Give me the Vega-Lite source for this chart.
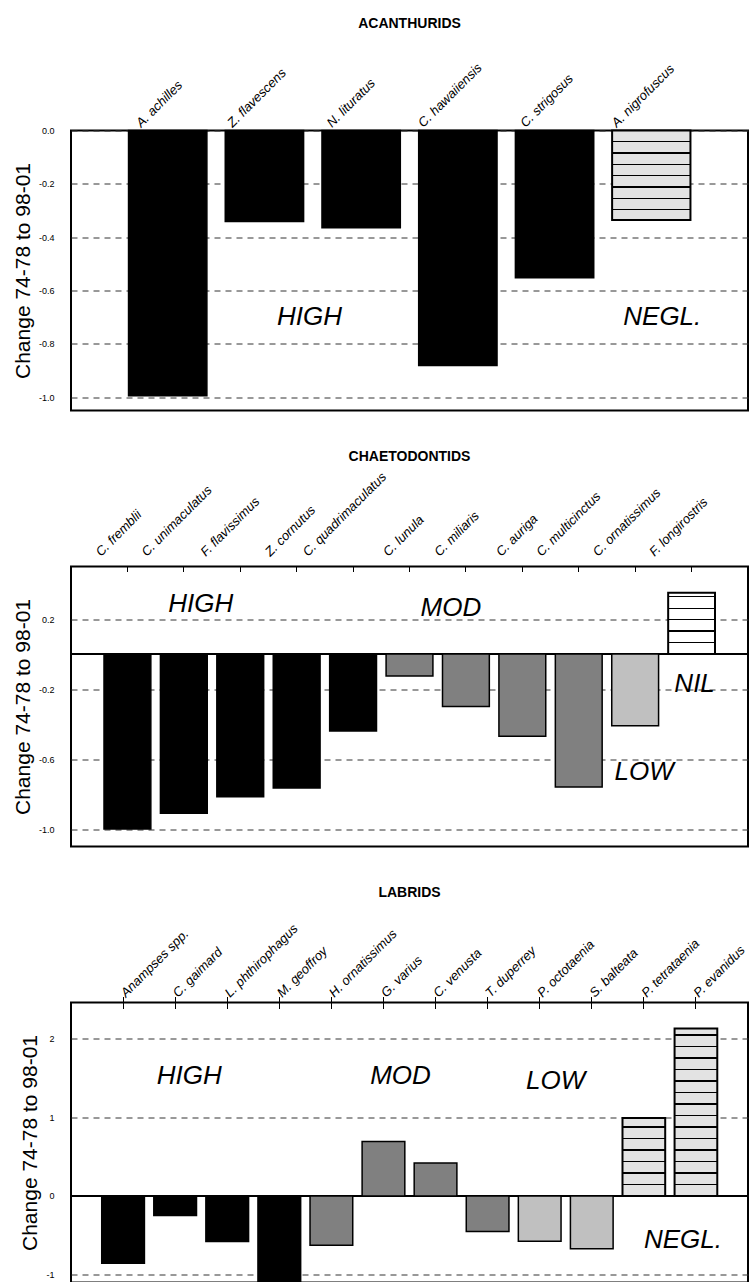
{
  "$schema": "https://vega.github.io/schema/vega-lite/v6.json",
  "background": "white",
  "padding": {"left": 11, "top": 15.5, "right": 0, "bottom": 0},
  "spacing": 156,
  "bounds": "flush",
  "config": {
    "font": "Liberation Sans",
    "view": {"stroke": "black", "strokeWidth": 2},
    "title": {"font": "Liberation Sans", "fontSize": 14, "fontWeight": "bold", "color": "black", "anchor": "middle"},
    "axis": {"labelFont": "Liberation Sans", "titleFont": "Liberation Sans", "labelColor": "black", "titleColor": "black"},
    "axisX": {"orient": "top", "title": null, "labelAngle": -45, "labelAlign": "left", "labelBaseline": "bottom", "labelFontSize": 13, "labelFontStyle": "italic", "labelOverlap": false, "domain": false, "grid": false, "tickColor": "black", "tickWidth": 1},
    "axisY": {"grid": true, "gridDash": [6, 5], "gridColor": "#333333", "gridWidth": 1, "ticks": false, "domain": false, "labelPadding": 17, "labelFontSize": 9, "titleFontSize": 21, "titleFontWeight": "normal", "titlePadding": 5, "labelOverlap": false},
    "text": {"font": "Liberation Sans", "fontSize": 26, "fontStyle": "italic", "color": "black", "align": "center", "baseline": "middle"}
  },
  "datasets": {
    "acan": [
      {"species": "A. achilles", "change": -0.995, "cls": "HIGH"},
      {"species": "Z. flavescens", "change": -0.341, "cls": "HIGH"},
      {"species": "N. lituratus", "change": -0.365, "cls": "HIGH"},
      {"species": "C. hawaiiensis", "change": -0.881, "cls": "HIGH"},
      {"species": "C. strigosus", "change": -0.552, "cls": "HIGH"},
      {"species": "A. nigrofuscus", "change": -0.336, "cls": "NEGL"}
    ],
    "chaet": [
      {"species": "C. fremblii", "change": -1.0, "cls": "HIGH"},
      {"species": "C. unimaculatus", "change": -0.91, "cls": "HIGH"},
      {"species": "F. flavissimus", "change": -0.815, "cls": "HIGH"},
      {"species": "Z. cornutus", "change": -0.765, "cls": "HIGH"},
      {"species": "C. quadrimaculatus", "change": -0.44, "cls": "HIGH"},
      {"species": "C. lunula", "change": -0.125, "cls": "MOD"},
      {"species": "C. miliaris", "change": -0.3, "cls": "MOD"},
      {"species": "C. auriga", "change": -0.47, "cls": "MOD"},
      {"species": "C. multicinctus", "change": -0.76, "cls": "MOD"},
      {"species": "C. ornatissimus", "change": -0.41, "cls": "LOW"},
      {"species": "F. longirostris", "change": 0.35, "cls": "NIL"}
    ],
    "labr": [
      {"species": "Anampses spp.", "change": -0.855, "cls": "HIGH"},
      {"species": "C. gaimard", "change": -0.247, "cls": "HIGH"},
      {"species": "L. phthirophagus", "change": -0.58, "cls": "HIGH"},
      {"species": "M. geoffroy", "change": -1.09, "cls": "HIGH"},
      {"species": "H. ornatissimus", "change": -0.625, "cls": "MOD"},
      {"species": "G. varius", "change": 0.694, "cls": "MOD"},
      {"species": "C. venusta", "change": 0.42, "cls": "MOD"},
      {"species": "T. duperrey", "change": -0.45, "cls": "MOD"},
      {"species": "P. octotaenia", "change": -0.577, "cls": "LOW"},
      {"species": "S. balteata", "change": -0.67, "cls": "LOW"},
      {"species": "P. tetrataenia", "change": 0.99, "cls": "NEGL"},
      {"species": "P. evanidus", "change": 2.13, "cls": "NEGL"}
    ]
  },
  "vconcat": [
    {
      "title": {"text": "ACANTHURIDS", "offset": 30},
      "width": 677,
      "height": 280,
      "data": {"name": "acan"},
      "layer": [
        {
          "transform": [{"filter": "datum.cls != 'NEGL'"}],
          "mark": {"type": "bar", "stroke": "black", "strokeWidth": 1.5},
          "encoding": {
            "x": {"field": "species", "type": "nominal",
              "scale": {"domain": ["A. achilles", "Z. flavescens", "N. lituratus", "C. hawaiiensis", "C. strigosus", "A. nigrofuscus"], "paddingInner": 0.19, "paddingOuter": 0.595},
              "axis": {"ticks": false, "labelPadding": 1, "labelOffset": {"expr": "5 - 2.67 * length(datum.label)"}}},
            "y": {"field": "change", "type": "quantitative", "scale": {"domain": [-1.05, 0], "nice": false},
              "axis": {"title": "Change 74-78 to 98-01", "values": [0, -0.2, -0.4, -0.6, -0.8, -1.0],
                "labelExpr": "(datum.value < 0 ? '-' : '') + format(abs(datum.value), '.1f')"}},
            "fill": {"field": "cls", "type": "nominal", "legend": null,
              "scale": {"domain": ["HIGH", "MOD", "LOW", "NEGL", "NIL"], "range": ["#000000", "#808080", "#c0c0c0", "#e3e3e3", "#ffffff"]}}
          }
        },
        {
          "transform": [{"filter": "datum.species == 'A. nigrofuscus'"}],
          "mark": {"type": "bar", "stroke": "black", "strokeWidth": 2,
            "fill": {"gradient": "linear", "x1": 0, "y1": 0, "x2": 0, "y2": 1, "stops": [
              {"offset": 0, "color": "#e3e3e3"},
              {"offset": 0.1185, "color": "#e3e3e3"}, {"offset": 0.1185, "color": "#000000"}, {"offset": 0.1335, "color": "#000000"}, {"offset": 0.1335, "color": "#e3e3e3"},
              {"offset": 0.2445, "color": "#e3e3e3"}, {"offset": 0.2445, "color": "#000000"}, {"offset": 0.2595, "color": "#000000"}, {"offset": 0.2595, "color": "#e3e3e3"},
              {"offset": 0.3705, "color": "#e3e3e3"}, {"offset": 0.3705, "color": "#000000"}, {"offset": 0.3855, "color": "#000000"}, {"offset": 0.3855, "color": "#e3e3e3"},
              {"offset": 0.4965, "color": "#e3e3e3"}, {"offset": 0.4965, "color": "#000000"}, {"offset": 0.5115, "color": "#000000"}, {"offset": 0.5115, "color": "#e3e3e3"},
              {"offset": 0.6235, "color": "#e3e3e3"}, {"offset": 0.6235, "color": "#000000"}, {"offset": 0.6385, "color": "#000000"}, {"offset": 0.6385, "color": "#e3e3e3"},
              {"offset": 0.7495, "color": "#e3e3e3"}, {"offset": 0.7495, "color": "#000000"}, {"offset": 0.7645, "color": "#000000"}, {"offset": 0.7645, "color": "#e3e3e3"},
              {"offset": 0.8755, "color": "#e3e3e3"}, {"offset": 0.8755, "color": "#000000"}, {"offset": 0.8905, "color": "#000000"}, {"offset": 0.8905, "color": "#e3e3e3"},
              {"offset": 1, "color": "#e3e3e3"}]}},
          "encoding": {
            "x": {"field": "species", "type": "nominal"},
            "y": {"field": "change", "type": "quantitative"}
          }
        },
        {
          "data": {"values": [{"species": "Z. flavescens", "change": -0.7, "label": "HIGH"}]},
          "mark": {"type": "text", "dx": 45},
          "encoding": {"x": {"field": "species", "type": "nominal"}, "y": {"field": "change", "type": "quantitative"}, "text": {"field": "label"}}
        },
        {
          "data": {"values": [{"species": "A. nigrofuscus", "change": -0.7, "label": "NEGL."}]},
          "mark": {"type": "text", "dx": 11},
          "encoding": {"x": {"field": "species", "type": "nominal"}, "y": {"field": "change", "type": "quantitative"}, "text": {"field": "label"}}
        }
      ]
    },
    {
      "title": {"text": "CHAETODONTIDS", "offset": 6},
      "width": 677,
      "height": 280,
      "data": {"name": "chaet"},
      "layer": [
        {
          "data": {"values": [{}]},
          "mark": {"type": "rule", "color": "black", "strokeWidth": 2},
          "encoding": {"y": {"datum": 0, "type": "quantitative"}}
        },
        {
          "transform": [{"filter": "datum.cls != 'NIL'"}],
          "mark": {"type": "bar", "stroke": "black", "strokeWidth": 1.5},
          "encoding": {
            "x": {"field": "species", "type": "nominal",
              "scale": {"domain": ["C. fremblii", "C. unimaculatus", "F. flavissimus", "Z. cornutus", "C. quadrimaculatus", "C. lunula", "C. miliaris", "C. auriga", "C. multicinctus", "C. ornatissimus", "F. longirostris"], "paddingInner": 0.17, "paddingOuter": 0.585},
              "axis": {"ticks": true, "tickSize": 5, "offset": -5, "labelPadding": 8, "labelOffset": {"expr": "5 - 2.67 * length(datum.label)"}}},
            "y": {"field": "change", "type": "quantitative", "scale": {"domain": [-1.1, 0.5], "nice": false},
              "axis": {"title": "Change 74-78 to 98-01", "values": [0.2, -0.2, -0.6, -1.0],
                "labelExpr": "(datum.value < 0 ? '-' : '') + format(abs(datum.value), '.1f')"}},
            "fill": {"field": "cls", "type": "nominal", "legend": null,
              "scale": {"domain": ["HIGH", "MOD", "LOW", "NEGL", "NIL"], "range": ["#000000", "#808080", "#c0c0c0", "#e3e3e3", "#ffffff"]}}
          }
        },
        {
          "transform": [{"filter": "datum.species == 'F. longirostris'"}],
          "mark": {"type": "bar", "stroke": "black", "strokeWidth": 2,
            "fill": {"gradient": "linear", "x1": 0, "y1": 0, "x2": 0, "y2": 1, "stops": [
              {"offset": 0, "color": "#ffffff"},
              {"offset": 0.054, "color": "#ffffff"}, {"offset": 0.054, "color": "#000000"}, {"offset": 0.076, "color": "#000000"}, {"offset": 0.076, "color": "#ffffff"},
              {"offset": 0.241, "color": "#ffffff"}, {"offset": 0.241, "color": "#000000"}, {"offset": 0.263, "color": "#000000"}, {"offset": 0.263, "color": "#ffffff"},
              {"offset": 0.428, "color": "#ffffff"}, {"offset": 0.428, "color": "#000000"}, {"offset": 0.45, "color": "#000000"}, {"offset": 0.45, "color": "#ffffff"},
              {"offset": 0.615, "color": "#ffffff"}, {"offset": 0.615, "color": "#000000"}, {"offset": 0.637, "color": "#000000"}, {"offset": 0.637, "color": "#ffffff"},
              {"offset": 0.802, "color": "#ffffff"}, {"offset": 0.802, "color": "#000000"}, {"offset": 0.824, "color": "#000000"}, {"offset": 0.824, "color": "#ffffff"},
              {"offset": 1, "color": "#ffffff"}]}},
          "encoding": {
            "x": {"field": "species", "type": "nominal"},
            "y": {"field": "change", "type": "quantitative"}
          }
        },
        {
          "data": {"values": [{"species": "C. unimaculatus", "change": 0.283, "label": "HIGH"}]},
          "mark": {"type": "text", "dx": 17},
          "encoding": {"x": {"field": "species", "type": "nominal"}, "y": {"field": "change", "type": "quantitative"}, "text": {"field": "label"}}
        },
        {
          "data": {"values": [{"species": "C. miliaris", "change": 0.264, "label": "MOD"}]},
          "mark": {"type": "text", "dx": -15},
          "encoding": {"x": {"field": "species", "type": "nominal"}, "y": {"field": "change", "type": "quantitative"}, "text": {"field": "label"}}
        },
        {
          "data": {"values": [{"species": "F. longirostris", "change": -0.172, "label": "NIL"}]},
          "mark": {"type": "text", "dx": 3},
          "encoding": {"x": {"field": "species", "type": "nominal"}, "y": {"field": "change", "type": "quantitative"}, "text": {"field": "label"}}
        },
        {
          "data": {"values": [{"species": "C. ornatissimus", "change": -0.673, "label": "LOW"}]},
          "mark": {"type": "text", "dx": 9},
          "encoding": {"x": {"field": "species", "type": "nominal"}, "y": {"field": "change", "type": "quantitative"}, "text": {"field": "label"}}
        }
      ]
    },
    {
      "title": {"text": "LABRIDS", "offset": 22},
      "width": 677,
      "height": 280,
      "data": {"name": "labr"},
      "layer": [
        {
          "data": {"values": [{}]},
          "mark": {"type": "rule", "color": "black", "strokeWidth": 2},
          "encoding": {"y": {"datum": 0, "type": "quantitative"}}
        },
        {
          "transform": [{"filter": "datum.cls != 'NEGL'"}],
          "mark": {"type": "bar", "stroke": "black", "strokeWidth": 1.5},
          "encoding": {
            "x": {"field": "species", "type": "nominal",
              "scale": {"domain": ["Anampses spp.", "C. gaimard", "L. phthirophagus", "M. geoffroy", "H. ornatissimus", "G. varius", "C. venusta", "T. duperrey", "P. octotaenia", "S. balteata", "P. tetrataenia", "P. evanidus"], "paddingInner": 0.18, "paddingOuter": 0.59},
              "axis": {"ticks": true, "tickSize": 12, "offset": -6, "labelPadding": -3, "labelOffset": 5}},
            "y": {"field": "change", "type": "quantitative", "scale": {"domain": [-1.1, 2.46], "nice": false},
              "axis": {"title": "Change 74-78 to 98-01", "values": [2, 1, 0, -1],
                "labelExpr": "(datum.value < 0 ? '-' : '') + format(abs(datum.value), 'd')"}},
            "fill": {"field": "cls", "type": "nominal", "legend": null,
              "scale": {"domain": ["HIGH", "MOD", "LOW", "NEGL", "NIL"], "range": ["#000000", "#808080", "#c0c0c0", "#e3e3e3", "#ffffff"]}}
          }
        },
        {
          "transform": [{"filter": "datum.species == 'P. tetrataenia'"}],
          "mark": {"type": "bar", "stroke": "black", "strokeWidth": 2,
            "fill": {"gradient": "linear", "x1": 0, "y1": 0, "x2": 0, "y2": 1, "stops": [
              {"offset": 0, "color": "#e3e3e3"},
              {"offset": 0.1055, "color": "#e3e3e3"}, {"offset": 0.1055, "color": "#000000"}, {"offset": 0.1225, "color": "#000000"}, {"offset": 0.1225, "color": "#e3e3e3"},
              {"offset": 0.2535, "color": "#e3e3e3"}, {"offset": 0.2535, "color": "#000000"}, {"offset": 0.2705, "color": "#000000"}, {"offset": 0.2705, "color": "#e3e3e3"},
              {"offset": 0.4005, "color": "#e3e3e3"}, {"offset": 0.4005, "color": "#000000"}, {"offset": 0.4175, "color": "#000000"}, {"offset": 0.4175, "color": "#e3e3e3"},
              {"offset": 0.5485, "color": "#e3e3e3"}, {"offset": 0.5485, "color": "#000000"}, {"offset": 0.5655, "color": "#000000"}, {"offset": 0.5655, "color": "#e3e3e3"},
              {"offset": 0.6965, "color": "#e3e3e3"}, {"offset": 0.6965, "color": "#000000"}, {"offset": 0.7135, "color": "#000000"}, {"offset": 0.7135, "color": "#e3e3e3"},
              {"offset": 0.8435, "color": "#e3e3e3"}, {"offset": 0.8435, "color": "#000000"}, {"offset": 0.8605, "color": "#000000"}, {"offset": 0.8605, "color": "#e3e3e3"},
              {"offset": 1, "color": "#e3e3e3"}]}},
          "encoding": {
            "x": {"field": "species", "type": "nominal"},
            "y": {"field": "change", "type": "quantitative"}
          }
        },
        {
          "transform": [{"filter": "datum.species == 'P. evanidus'"}],
          "mark": {"type": "bar", "stroke": "black", "strokeWidth": 2,
            "fill": {"gradient": "linear", "x1": 0, "y1": 0, "x2": 0, "y2": 1, "stops": [
              {"offset": 0, "color": "#e3e3e3"},
              {"offset": 0.035, "color": "#e3e3e3"}, {"offset": 0.035, "color": "#000000"}, {"offset": 0.043, "color": "#000000"}, {"offset": 0.043, "color": "#e3e3e3"},
              {"offset": 0.103, "color": "#e3e3e3"}, {"offset": 0.103, "color": "#000000"}, {"offset": 0.111, "color": "#000000"}, {"offset": 0.111, "color": "#e3e3e3"},
              {"offset": 0.172, "color": "#e3e3e3"}, {"offset": 0.172, "color": "#000000"}, {"offset": 0.18, "color": "#000000"}, {"offset": 0.18, "color": "#e3e3e3"},
              {"offset": 0.241, "color": "#e3e3e3"}, {"offset": 0.241, "color": "#000000"}, {"offset": 0.249, "color": "#000000"}, {"offset": 0.249, "color": "#e3e3e3"},
              {"offset": 0.309, "color": "#e3e3e3"}, {"offset": 0.309, "color": "#000000"}, {"offset": 0.317, "color": "#000000"}, {"offset": 0.317, "color": "#e3e3e3"},
              {"offset": 0.378, "color": "#e3e3e3"}, {"offset": 0.378, "color": "#000000"}, {"offset": 0.386, "color": "#000000"}, {"offset": 0.386, "color": "#e3e3e3"},
              {"offset": 0.447, "color": "#e3e3e3"}, {"offset": 0.447, "color": "#000000"}, {"offset": 0.455, "color": "#000000"}, {"offset": 0.455, "color": "#e3e3e3"},
              {"offset": 0.515, "color": "#e3e3e3"}, {"offset": 0.515, "color": "#000000"}, {"offset": 0.523, "color": "#000000"}, {"offset": 0.523, "color": "#e3e3e3"},
              {"offset": 0.584, "color": "#e3e3e3"}, {"offset": 0.584, "color": "#000000"}, {"offset": 0.592, "color": "#000000"}, {"offset": 0.592, "color": "#e3e3e3"},
              {"offset": 0.653, "color": "#e3e3e3"}, {"offset": 0.653, "color": "#000000"}, {"offset": 0.661, "color": "#000000"}, {"offset": 0.661, "color": "#e3e3e3"},
              {"offset": 0.721, "color": "#e3e3e3"}, {"offset": 0.721, "color": "#000000"}, {"offset": 0.729, "color": "#000000"}, {"offset": 0.729, "color": "#e3e3e3"},
              {"offset": 0.79, "color": "#e3e3e3"}, {"offset": 0.79, "color": "#000000"}, {"offset": 0.798, "color": "#000000"}, {"offset": 0.798, "color": "#e3e3e3"},
              {"offset": 0.859, "color": "#e3e3e3"}, {"offset": 0.859, "color": "#000000"}, {"offset": 0.867, "color": "#000000"}, {"offset": 0.867, "color": "#e3e3e3"},
              {"offset": 0.927, "color": "#e3e3e3"}, {"offset": 0.927, "color": "#000000"}, {"offset": 0.935, "color": "#000000"}, {"offset": 0.935, "color": "#e3e3e3"},
              {"offset": 1, "color": "#e3e3e3"}]}},
          "encoding": {
            "x": {"field": "species", "type": "nominal"},
            "y": {"field": "change", "type": "quantitative"}
          }
        },
        {
          "data": {"values": [{"species": "C. gaimard", "change": 1.52, "label": "HIGH"}]},
          "mark": {"type": "text", "dx": 14},
          "encoding": {"x": {"field": "species", "type": "nominal"}, "y": {"field": "change", "type": "quantitative"}, "text": {"field": "label"}}
        },
        {
          "data": {"values": [{"species": "G. varius", "change": 1.52, "label": "MOD"}]},
          "mark": {"type": "text", "dx": 17},
          "encoding": {"x": {"field": "species", "type": "nominal"}, "y": {"field": "change", "type": "quantitative"}, "text": {"field": "label"}}
        },
        {
          "data": {"values": [{"species": "P. octotaenia", "change": 1.456, "label": "LOW"}]},
          "mark": {"type": "text", "dx": 16},
          "encoding": {"x": {"field": "species", "type": "nominal"}, "y": {"field": "change", "type": "quantitative"}, "text": {"field": "label"}}
        },
        {
          "data": {"values": [{"species": "P. evanidus", "change": -0.555, "label": "NEGL."}]},
          "mark": {"type": "text", "dx": -13},
          "encoding": {"x": {"field": "species", "type": "nominal"}, "y": {"field": "change", "type": "quantitative"}, "text": {"field": "label"}}
        }
      ]
    }
  ]
}
